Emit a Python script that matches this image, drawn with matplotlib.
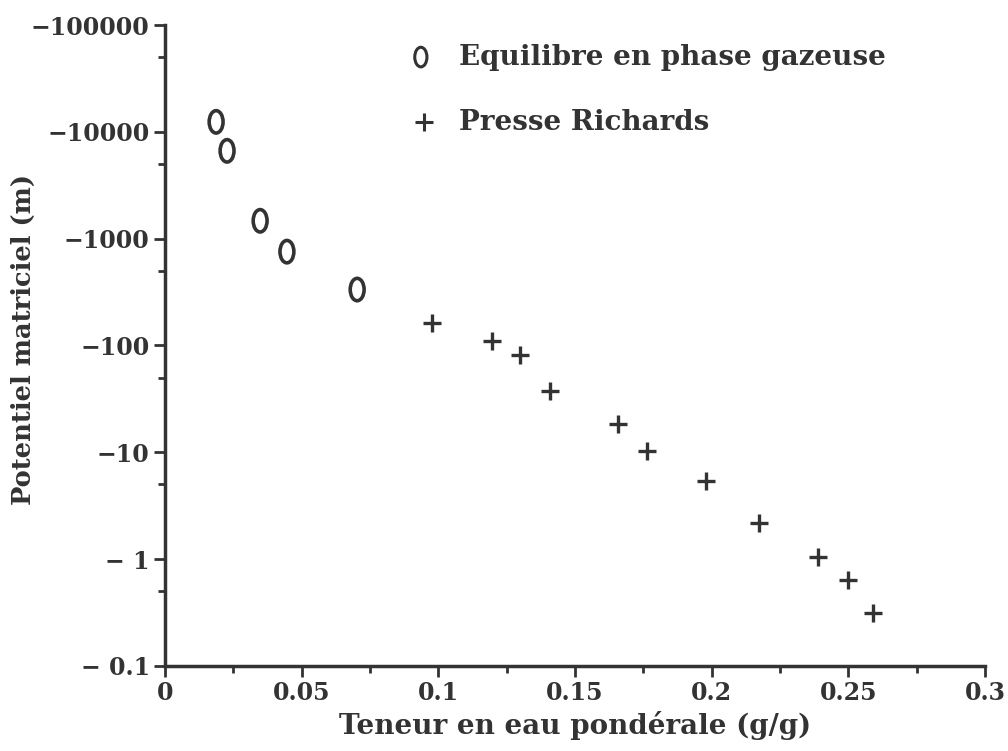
'''
Courbe de retention : potentiel matriciel en fonction de la teneur en eau.
'''

import numpy as np
import matplotlib
matplotlib.use('Agg')
import matplotlib.pyplot as plt
import matplotlib.ticker as mtk
import matplotlib.path as mpath
import matplotlib.transforms as mtr

# equilibre en phase gazeuse (teneur g/g, succion en m)
gaz_w = [0.0187, 0.0227, 0.0348, 0.0446, 0.0703]
gaz_h = [12400, 6640, 1470, 756, 334]

# presse Richards
rich_w = [0.0977, 0.1197, 0.130, 0.1409, 0.1657, 0.1764, 0.198, 0.2173,
          0.2389, 0.250, 0.259]
rich_h = [164, 111, 80.7, 37.9, 18.3, 10.2, 5.36, 2.17, 1.04, 0.64, 0.31]

ytick_vals = [0.1, 1, 10, 100, 1000, 10000, 100000]
ytick_labels = ['\u2212 0.1', '\u2212 1', '\u221210', '\u2212100', '\u22121000',
                '\u221210000', '\u2212100000']
xtick_vals = [0, 0.05, 0.1, 0.15, 0.2, 0.25, 0.3]
xtick_labels = ['0', '0.05', '0.1', '0.15', '0.2', '0.25', '0.3']

col = '#333333'
plt.rcParams['font.family'] = ['DejaVu Serif']
plt.rcParams['font.weight'] = 'bold'
plt.rcParams['axes.labelweight'] = 'bold'

# marqueur "0" : anneau ovale
ring = mpath.Path.unit_circle().transformed(mtr.Affine2D().scale(0.62, 1.0))

fig = plt.figure(figsize=(10.08, 7.51), dpi=100)
ax = fig.add_axes([0.1637, 0.1132, 0.8135, 0.8535])

ax.scatter(gaz_w, gaz_h, marker=ring, s=260, facecolors='none',
           edgecolors=col, linewidths=2.6)
ax.scatter(rich_w, rich_h, marker='+', s=170, c=col, linewidths=2.4)

ax.set_yscale('log')
ax.set_xlim(0, 0.3)
ax.set_ylim(0.1, 100000)

ax.yaxis.set_major_locator(mtk.FixedLocator(ytick_vals))
ax.yaxis.set_major_formatter(mtk.FixedFormatter(ytick_labels))
ax.yaxis.set_minor_locator(mtk.FixedLocator([0.5 * v for v in ytick_vals[1:]]))
ax.yaxis.set_minor_formatter(mtk.NullFormatter())
ax.xaxis.set_major_locator(mtk.FixedLocator(xtick_vals))
ax.xaxis.set_major_formatter(mtk.FixedFormatter(xtick_labels))
ax.xaxis.set_minor_locator(mtk.MultipleLocator(0.025))

for s in ['top', 'right']:
    ax.spines[s].set_visible(False)
for s in ['left', 'bottom']:
    ax.spines[s].set_linewidth(2.5)
    ax.spines[s].set_color(col)

ax.tick_params(which='major', length=8, width=2, color=col,
               labelsize=17, labelcolor=col, pad=3)
ax.tick_params(which='minor', length=5, width=2, color=col)

ax.set_xlabel('Teneur en eau pondérale (g/g)', fontsize=20, color=col)
ax.xaxis.set_label_coords(0.5, -0.07)
ax.set_ylabel('Potentiel matriciel (m)', fontsize=18.5, color=col)
ax.yaxis.set_label_coords(-0.157, 0.51)

# legende dessinee a la main
ax.scatter([0.312], [0.95], marker=ring, s=200, facecolors='none',
           edgecolors=col, linewidths=2.2, transform=ax.transAxes,
           clip_on=False)
ax.text(0.358, 0.95, 'Equilibre en phase gazeuse', transform=ax.transAxes,
        fontsize=20, color=col, ha='left', va='center')
ax.scatter([0.316], [0.848], marker='+', s=150, c=col, linewidths=2.2,
           transform=ax.transAxes, clip_on=False)
ax.text(0.358, 0.848, 'Presse Richards', transform=ax.transAxes,
        fontsize=20, color=col, ha='left', va='center')

fig.savefig('out.png', dpi=100)
